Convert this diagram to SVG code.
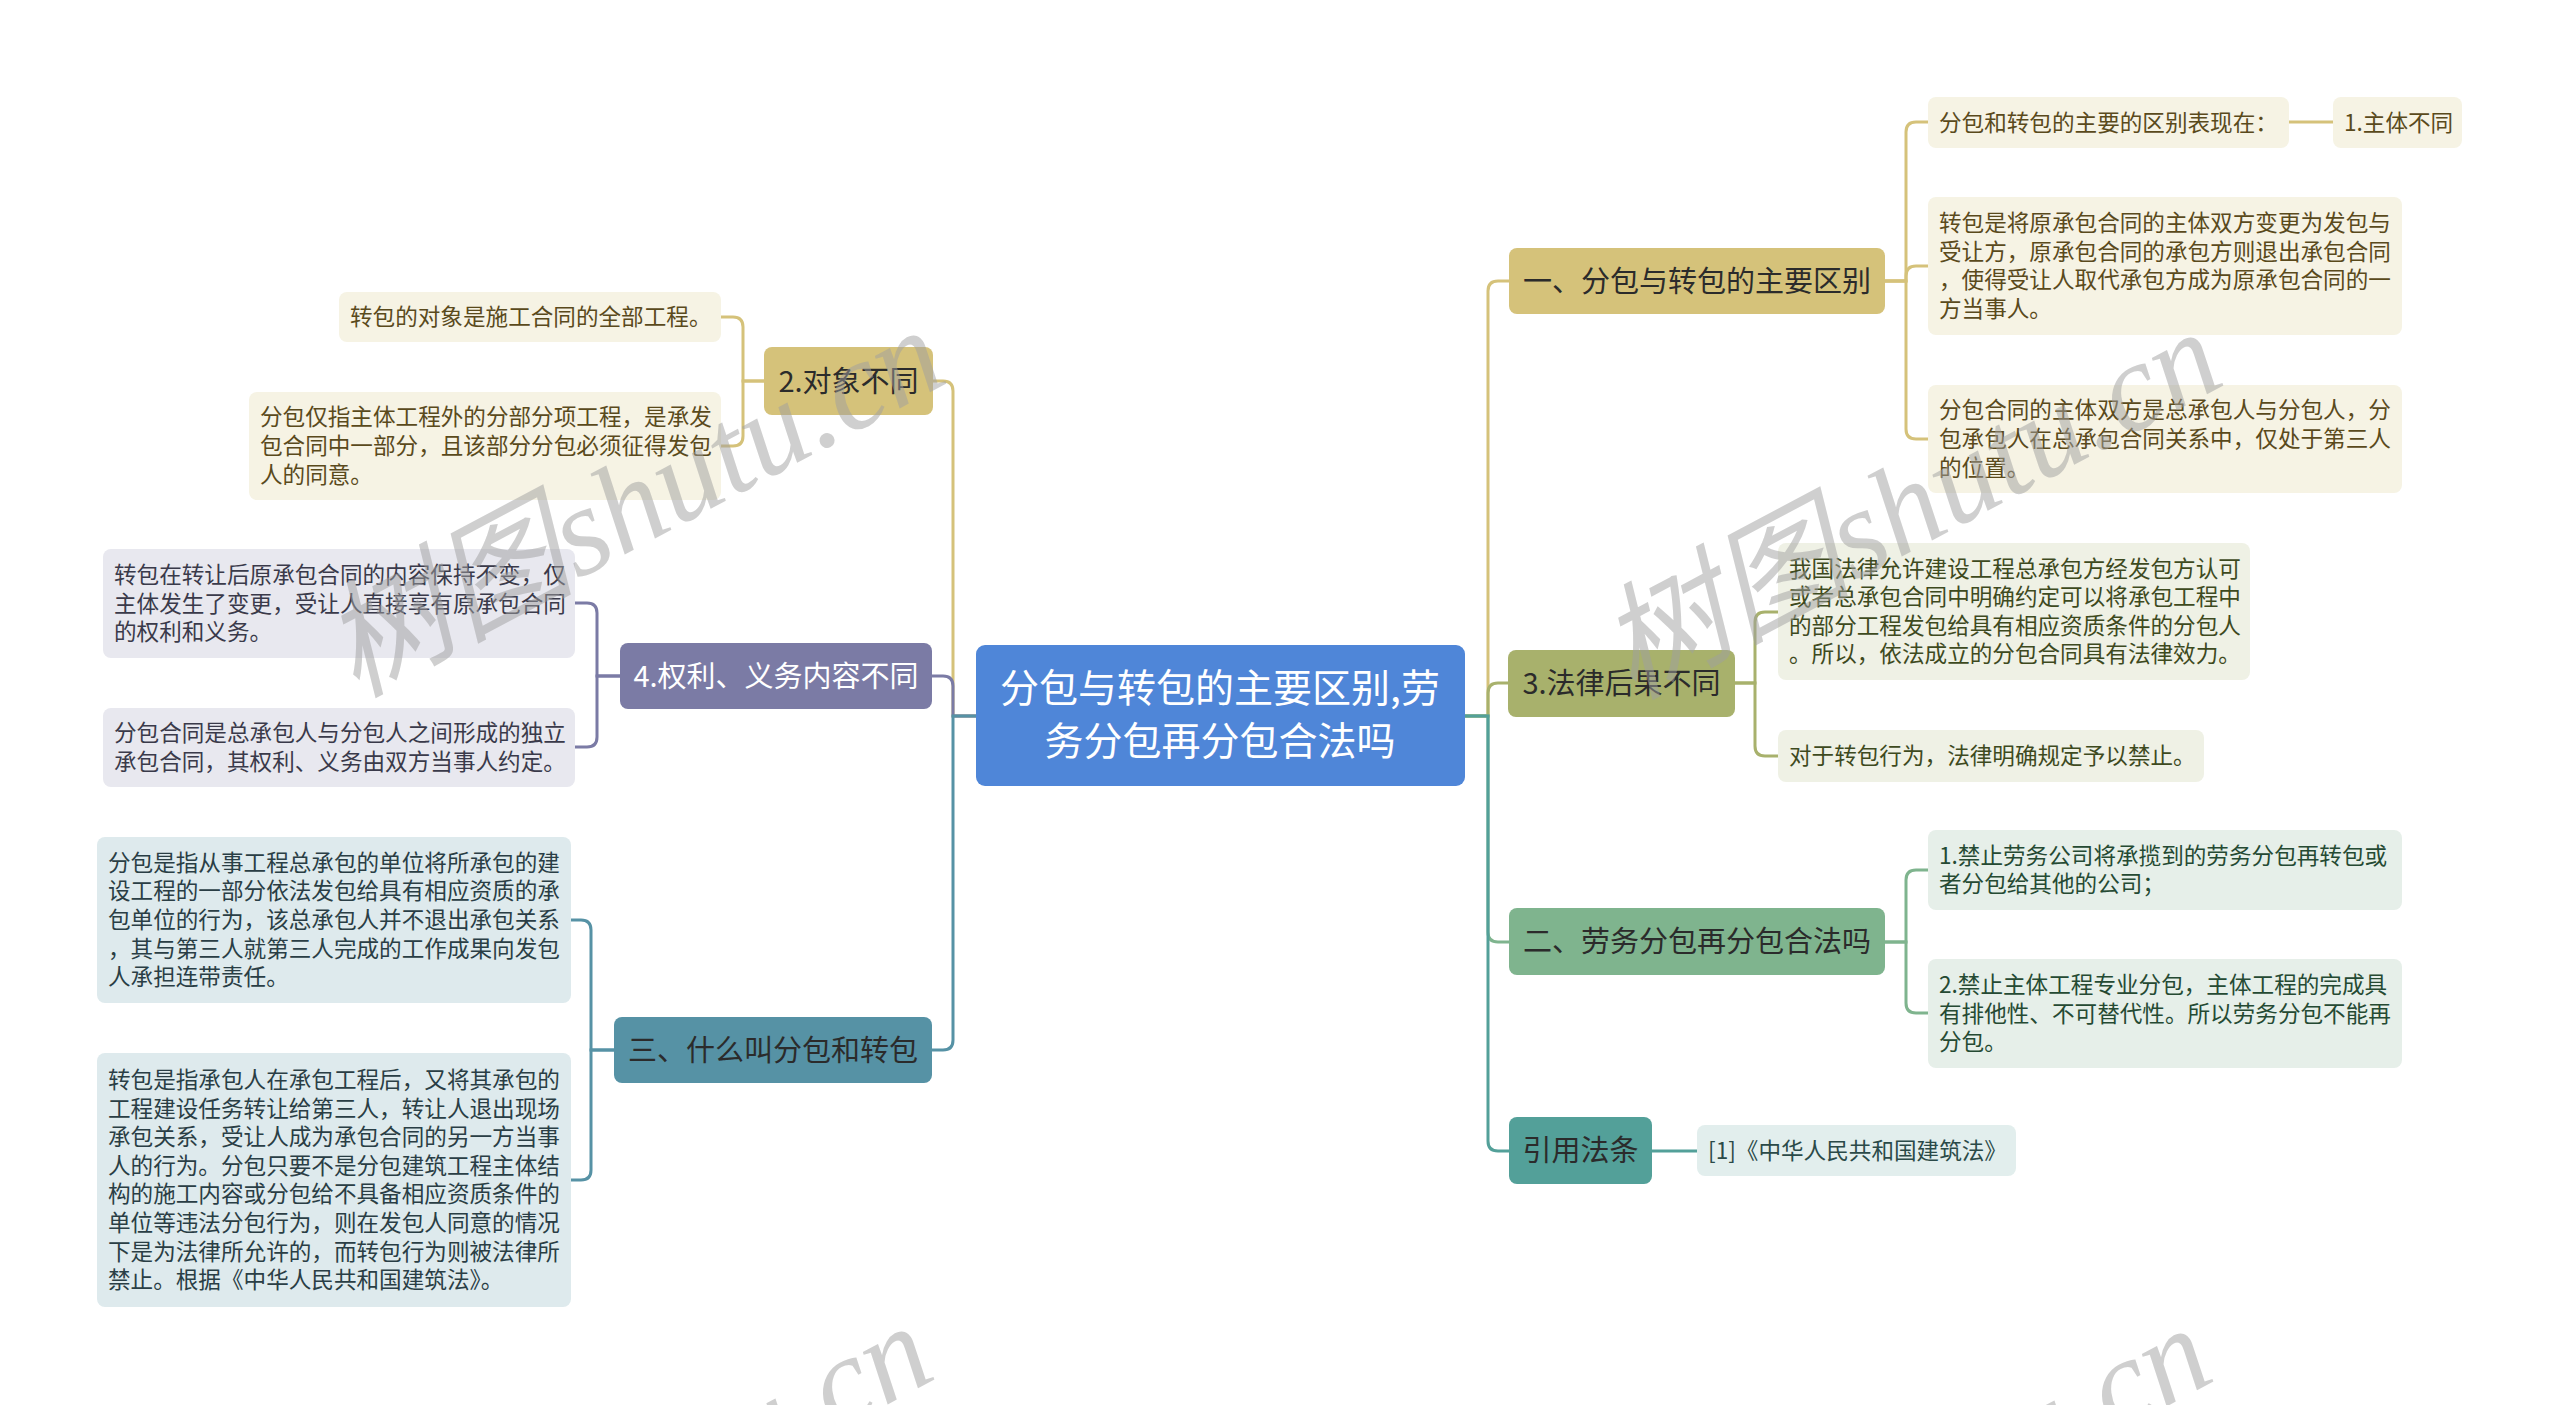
<svg xmlns="http://www.w3.org/2000/svg" width="2560" height="1405" viewBox="0 0 2560 1405">
<style>
text{font-family:"Noto Sans CJK SC","Noto Sans",sans-serif;}
.cn{stroke-width:3;fill:none;stroke-linecap:round;}
.br{font-size:29px;text-anchor:middle;fill:#2b2b2b;}
.ch{font-size:22.6px;}
.ctr{font-size:39px;fill:#ffffff;text-anchor:middle;}
.wm{font-family:"Liberation Serif","Noto Sans CJK SC",serif;font-style:italic;font-size:126px;fill:#a0a0a0;opacity:0.5;}
.gold{stroke:#d5c27a;}
.olive{stroke:#a8b16c;}
.green{stroke:#7fb48e;}
.teal{stroke:#53a099;}
.purple{stroke:#7b7ba5;}
.blue{stroke:#5692a5;}
.tg{fill:#5a4a1c;}
.to{fill:#3e4a1e;}
.tn{fill:#254a33;}
.tt{fill:#2b4a48;}
.tp{fill:#3a3a4a;}
.tb{fill:#2a3e45;}
</style>
<rect width="2560" height="1405" fill="#ffffff"/>
<g id="connectors">
<path class="cn gold" d="M976,716 H953 V391 Q953,381 943,381 H932"/>
<path class="cn purple" d="M976,716 H953 V686 Q953,676 943,676 H932"/>
<path class="cn blue" d="M976,716 H953 V1040 Q953,1050 943,1050 H932"/>
<path class="cn gold" d="M1465,716 H1488 V291 Q1488,281 1498,281 H1509"/>
<path class="cn olive" d="M1465,716 H1488 V693 Q1488,683 1498,683 H1508"/>
<path class="cn green" d="M1465,716 H1488 V932 Q1488,942 1498,942 H1509"/>
<path class="cn teal" d="M1465,716 H1488 V1141 Q1488,1151 1498,1151 H1509"/>
<path class="cn gold" d="M764,381 H743 V327 Q743,317 733,317 H721"/>
<path class="cn gold" d="M764,381 H743 V436 Q743,446 733,446 H721"/>
<path class="cn purple" d="M620,676 H597 V613 Q597,603 587,603 H575"/>
<path class="cn purple" d="M620,676 H597 V737 Q597,747 587,747 H575"/>
<path class="cn blue" d="M614,1050 H591 V930 Q591,920 581,920 H571"/>
<path class="cn blue" d="M614,1050 H591 V1170 Q591,1180 581,1180 H571"/>
<path class="cn gold" d="M1885,281 H1906 V132 Q1906,122 1916,122 H1928"/>
<path class="cn gold" d="M1885,281 H1906 V276 Q1906,266 1916,266 H1928"/>
<path class="cn gold" d="M1885,281 H1906 V429 Q1906,439 1916,439 H1928"/>
<path class="cn gold" d="M2289,122 H2333"/>
<path class="cn olive" d="M1735,683 H1755 V622 Q1755,612 1765,612 H1778"/>
<path class="cn olive" d="M1735,683 H1755 V746 Q1755,756 1765,756 H1778"/>
<path class="cn green" d="M1885,942 H1906 V880 Q1906,870 1916,870 H1928"/>
<path class="cn green" d="M1885,942 H1906 V1003 Q1906,1013 1916,1013 H1928"/>
<path class="cn teal" d="M1652,1151 H1697"/>
</g>
<g id="center">
<rect x="976" y="645" width="489" height="141" rx="9" fill="#4f86d8"/>
<text class="ctr" x="1220" y="702">分包与转包的主要区别,劳</text>
<text class="ctr" x="1220" y="755">务分包再分包合法吗</text>
</g>
<g id="b1">
<rect x="1509" y="248" width="376" height="66" rx="8" fill="#d5c27a"/>
<text class="br" x="1697" y="291.5">一、分包与转包的主要区别</text>
</g>
<g id="b1c0">
<rect x="1928" y="97" width="361" height="51" rx="8" fill="#f6f3e4"/>
<text class="ch tg" x="1939" y="130.5">分包和转包的主要的区别表现在：</text>
</g>
<g id="b1c0a">
<rect x="2333" y="97" width="129" height="51" rx="8" fill="#f6f3e4"/>
<text class="ch tg" x="2344" y="130.5">1.主体不同</text>
</g>
<g id="b1c1">
<rect x="1928" y="197" width="474" height="138" rx="8" fill="#f6f3e4"/>
<text class="ch tg" x="1939" y="231"><tspan x="1939">转包是将原承包合同的主体双方变更为发包与</tspan><tspan x="1939" dy="28.6">受让方，原承包合同的承包方则退出承包合同</tspan><tspan x="1939" dy="28.6">，使得受让人取代承包方成为原承包合同的一</tspan><tspan x="1939" dy="28.6">方当事人。</tspan></text>
</g>
<g id="b1c2">
<rect x="1928" y="385" width="474" height="108" rx="8" fill="#f6f3e4"/>
<text class="ch tg" x="1939" y="418.4"><tspan x="1939">分包合同的主体双方是总承包人与分包人，分</tspan><tspan x="1939" dy="28.6">包承包人在总承包合同关系中，仅处于第三人</tspan><tspan x="1939" dy="28.6">的位置。</tspan></text>
</g>
<g id="b3">
<rect x="1508" y="650" width="227" height="67" rx="8" fill="#a8b16c"/>
<text class="br" x="1621.5" y="694">3.法律后果不同</text>
</g>
<g id="b3c1">
<rect x="1778" y="543" width="472" height="137" rx="8" fill="#eff1e5"/>
<text class="ch to" x="1789" y="576.6"><tspan x="1789">我国法律允许建设工程总承包方经发包方认可</tspan><tspan x="1789" dy="28.6">或者总承包合同中明确约定可以将承包工程中</tspan><tspan x="1789" dy="28.6">的部分工程发包给具有相应资质条件的分包人</tspan><tspan x="1789" dy="28.6">。所以，依法成立的分包合同具有法律效力。</tspan></text>
</g>
<g id="b3c2">
<rect x="1778" y="730" width="426" height="52" rx="8" fill="#eff1e5"/>
<text class="ch to" x="1789" y="764">对于转包行为，法律明确规定予以禁止。</text>
</g>
<g id="b2">
<rect x="1509" y="908" width="376" height="67" rx="8" fill="#7fb48e"/>
<text class="br" x="1697" y="952">二、劳务分包再分包合法吗</text>
</g>
<g id="b2c1">
<rect x="1928" y="830" width="474" height="80" rx="8" fill="#e6efe9"/>
<text class="ch tn" x="1939" y="863.7"><tspan x="1939">1.禁止劳务公司将承揽到的劳务分包再转包或</tspan><tspan x="1939" dy="28.6">者分包给其他的公司；</tspan></text>
</g>
<g id="b2c2">
<rect x="1928" y="959" width="474" height="109" rx="8" fill="#e6efe9"/>
<text class="ch tn" x="1939" y="992.9"><tspan x="1939">2.禁止主体工程专业分包，主体工程的完成具</tspan><tspan x="1939" dy="28.6">有排他性、不可替代性。所以劳务分包不能再</tspan><tspan x="1939" dy="28.6">分包。</tspan></text>
</g>
<g id="b4">
<rect x="1509" y="1117" width="143" height="67" rx="8" fill="#53a099"/>
<text class="br" x="1580.5" y="1161">引用法条</text>
</g>
<g id="b4c1">
<rect x="1697" y="1125" width="319" height="51" rx="8" fill="#e2eeed"/>
<text class="ch tt" x="1708" y="1158.5">[1]《中华人民共和国建筑法》</text>
</g>
<g id="l1">
<rect x="764" y="347" width="169" height="68" rx="8" fill="#d5c27a"/>
<text class="br" x="848.5" y="391.5">2.对象不同</text>
</g>
<g id="l1c1">
<rect x="339" y="292" width="382" height="50" rx="8" fill="#f6f3e4"/>
<text class="ch tg" x="350" y="325">转包的对象是施工合同的全部工程。</text>
</g>
<g id="l1c2">
<rect x="249" y="392" width="472" height="108" rx="8" fill="#f6f3e4"/>
<text class="ch tg" x="260" y="425.4"><tspan x="260">分包仅指主体工程外的分部分项工程，是承发</tspan><tspan x="260" dy="28.6">包合同中一部分，且该部分分包必须征得发包</tspan><tspan x="260" dy="28.6">人的同意。</tspan></text>
</g>
<g id="l2">
<rect x="620" y="643" width="312" height="66" rx="8" fill="#7b7ba5"/>
<text class="br" x="776" y="686.5" style="fill:#ffffff">4.权利、义务内容不同</text>
</g>
<g id="l2c1">
<rect x="103" y="549" width="472" height="109" rx="8" fill="#e8e8ef"/>
<text class="ch tp" x="114" y="583"><tspan x="114">转包在转让后原承包合同的内容保持不变，仅</tspan><tspan x="114" dy="28.6">主体发生了变更，受让人直接享有原承包合同</tspan><tspan x="114" dy="28.6">的权利和义务。</tspan></text>
</g>
<g id="l2c2">
<rect x="103" y="708" width="472" height="79" rx="8" fill="#e8e8ef"/>
<text class="ch tp" x="114" y="741.2"><tspan x="114">分包合同是总承包人与分包人之间形成的独立</tspan><tspan x="114" dy="28.6">承包合同，其权利、义务由双方当事人约定。</tspan></text>
</g>
<g id="l3">
<rect x="614" y="1017" width="318" height="66" rx="8" fill="#5692a5"/>
<text class="br" x="773" y="1060.5">三、什么叫分包和转包</text>
</g>
<g id="l3c1">
<rect x="97" y="837" width="474" height="166" rx="8" fill="#deeaed"/>
<text class="ch tb" x="108" y="870.8"><tspan x="108">分包是指从事工程总承包的单位将所承包的建</tspan><tspan x="108" dy="28.6">设工程的一部分依法发包给具有相应资质的承</tspan><tspan x="108" dy="28.6">包单位的行为，该总承包人并不退出承包关系</tspan><tspan x="108" dy="28.6">，其与第三人就第三人完成的工作成果向发包</tspan><tspan x="108" dy="28.6">人承担连带责任。</tspan></text>
</g>
<g id="l3c2">
<rect x="97" y="1053" width="474" height="254" rx="8" fill="#deeaed"/>
<text class="ch tb" x="108" y="1088"><tspan x="108">转包是指承包人在承包工程后，又将其承包的</tspan><tspan x="108" dy="28.6">工程建设任务转让给第三人，转让人退出现场</tspan><tspan x="108" dy="28.6">承包关系，受让人成为承包合同的另一方当事</tspan><tspan x="108" dy="28.6">人的行为。分包只要不是分包建筑工程主体结</tspan><tspan x="108" dy="28.6">构的施工内容或分包给不具备相应资质条件的</tspan><tspan x="108" dy="28.6">单位等违法分包行为，则在发包人同意的情况</tspan><tspan x="108" dy="28.6">下是为法律所允许的，而转包行为则被法律所</tspan><tspan x="108" dy="28.6">禁止。根据《中华人民共和国建筑法》。</tspan></text>
</g>
<g id="watermarks">
<text class="wm" transform="translate(355,698) rotate(-28)">树图shutu.cn</text>
<text class="wm" transform="translate(1632,700) rotate(-28)">树图shutu.cn</text>
<text class="wm" transform="translate(343,1694) rotate(-28)">树图shutu.cn</text>
<text class="wm" transform="translate(1622,1696) rotate(-28)">树图shutu.cn</text>
</g>
</svg>
